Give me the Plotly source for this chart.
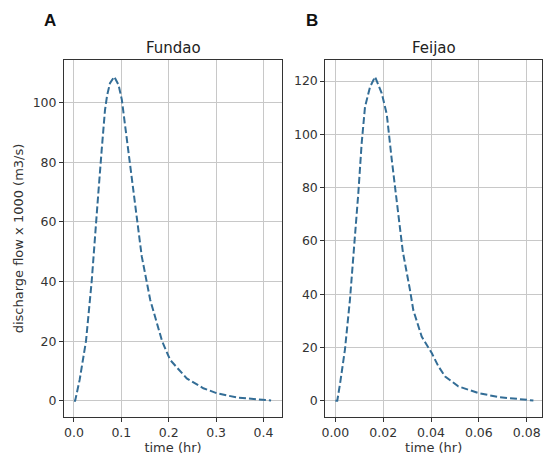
import plotly.graph_objects as go

# Fundao hydrograph
fundao_t = [0.0, 0.0025, 0.012, 0.0254, 0.0374, 0.044, 0.0514, 0.0585, 0.0655, 0.07, 0.076, 0.085,
            0.094, 0.101, 0.115, 0.129, 0.143, 0.161, 0.186, 0.203, 0.238, 0.273, 0.302,
            0.344, 0.379, 0.416]
fundao_q = [0.0, 0.0, 7.0, 20.0, 40.0, 55.0, 69.6, 84.1, 97.5, 102.5, 106.5, 108.7,
            106.0, 101.0, 84.1, 66.2, 48.5, 33.8, 20.0, 13.7, 7.5, 4.2, 2.5,
            1.1, 0.5, 0.1]

# Feijao hydrograph
feijao_t = [0.0, 0.0008, 0.002, 0.004, 0.0061, 0.0075, 0.0096, 0.011, 0.0124, 0.0145,
            0.0166, 0.0194, 0.0215, 0.0236, 0.0257, 0.0282, 0.0312, 0.0326, 0.0361,
            0.0403, 0.0431, 0.0459, 0.0514, 0.0598, 0.0681, 0.0765, 0.0828]
feijao_q = [0.0, 0.0, 6.6, 19.1, 37.9, 53.5, 77.9, 96.6, 110.3, 117.8,
            121.6, 115.4, 107.5, 90.4, 74.1, 56.0, 41.6, 34.0, 24.1,
            17.9, 12.9, 9.1, 5.4, 2.9, 1.4, 0.6, 0.1]

titles = ["Fundao", "Feijao"]
panel_labels = ["A", "B"]
x_label = "time (hr)"
y_label = "discharge flow x 1000 (m3/s)"

W, H = 544, 459
line_color = "#336d96"
font_family = "DejaVu Sans"

fig = go.Figure()
fig.add_trace(go.Scatter(x=fundao_t, y=fundao_q, mode="lines", xaxis="x", yaxis="y",
                         line=dict(color=line_color, width=2, dash="7px,3px"), showlegend=False))
fig.add_trace(go.Scatter(x=feijao_t, y=feijao_q, mode="lines", xaxis="x2", yaxis="y2",
                         line=dict(color=line_color, width=2, dash="7px,3px"), showlegend=False))

top_px, bot_px = 60, 417
ydom = [1 - bot_px / H, 1 - top_px / H]
x1dom = [64 / W, 282 / W]
x2dom = [325.3 / W, 542 / W]

axis_common = dict(showgrid=True, gridcolor="#c8c8c8", gridwidth=1,
                   showline=True, linecolor="#333333", linewidth=1, mirror=True,
                   ticks="outside", ticklen=4, tickcolor="#333333",
                   tickfont=dict(size=12.5, color="#333333", family=font_family),
                   zeroline=False, automargin=False)

fig.update_layout(
    width=W, height=H,
    margin=dict(l=0, r=0, t=0, b=0),
    paper_bgcolor="white", plot_bgcolor="white",
    font=dict(family=font_family, color="#333333"),
    xaxis=dict(domain=x1dom, anchor="y", range=[-0.021, 0.439], tickvals=[0.0, 0.1, 0.2, 0.3, 0.4],
               ticktext=["0.0", "0.1", "0.2", "0.3", "0.4"],
               title=dict(text=x_label, font=dict(size=13), standoff=3), **axis_common),
    yaxis=dict(domain=ydom, anchor="x", range=[-5.44, 114.3], tickvals=[0, 20, 40, 60, 80, 100],
               title=dict(text=y_label, font=dict(size=13), standoff=6), **axis_common),
    xaxis2=dict(domain=x2dom, anchor="y2", range=[-0.0042, 0.0864],
                tickvals=[0.0, 0.02, 0.04, 0.06, 0.08],
                ticktext=["0.00", "0.02", "0.04", "0.06", "0.08"],
                title=dict(text=x_label, font=dict(size=13), standoff=3), **axis_common),
    yaxis2=dict(domain=ydom, anchor="x2", range=[-6.1, 127.9], tickvals=[0, 20, 40, 60, 80, 100, 120],
                **axis_common),
)

annotations = []
for dom, title in zip([x1dom, x2dom], titles):
    annotations.append(dict(text=title, x=(dom[0] + dom[1]) / 2, y=1 - 48 / H, xref="paper", yref="paper",
                            showarrow=False, font=dict(size=15, color="#222222"),
                            xanchor="center", yanchor="middle"))
for px, lab in zip([50, 312], panel_labels):
    annotations.append(dict(text="<b>%s</b>" % lab, x=px / W, y=1 - 20 / H, xref="paper", yref="paper",
                            showarrow=False, font=dict(size=17, color="#111111", family="Liberation Sans"),
                            xanchor="center", yanchor="middle"))
fig.update_layout(annotations=annotations)

fig.write_html("out.html", config={"displayModeBar": False},
               post_script="document.body.style.margin='0px';document.body.style.overflow='hidden';")
